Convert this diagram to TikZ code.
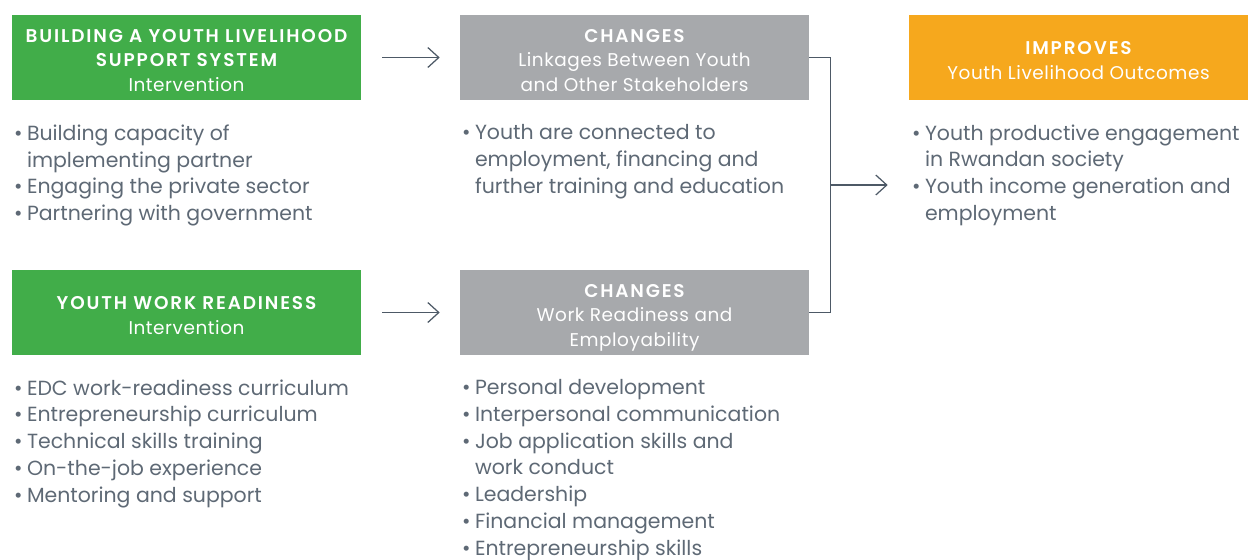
\documentclass[tikz,border=0pt]{standalone}
\usepackage{fontspec}
\setmainfont{Poppins}[BoldFont={Poppins SemiBold}]
\usetikzlibrary{positioning, arrows.meta, calc}

\definecolor{edcgreen}{HTML}{41AD49}
\definecolor{edcgray}{HTML}{A7A9AC}
\definecolor{edcorange}{HTML}{F6A81D}
\definecolor{bodytext}{HTML}{5E6975}
\definecolor{linkline}{HTML}{4D5966}

\newcommand{\bul}{\makebox[0.26cm][l]{\textbullet}}
\newcommand{\ind}{\hspace*{0.26cm}}
\newcommand{\ttl}[1]{{\bfseries\addfontfeature{LetterSpace=10}#1}}
\newcommand{\tp}{\rule{0pt}{13.8pt}}
\newcommand{\btm}{\rule[-3pt]{0pt}{3pt}}

\begin{document}
\begin{tikzpicture}[x=0.02cm, y=-0.02cm,
		box/.style={minimum width=6.98cm, minimum height=1.7cm, inner sep=0pt,
			text=white, align=center,
			font=\fontsize{10.5}{13.7}\selectfont\addfontfeature{LetterSpace=3}},
		list/.style={inner sep=0pt, align=left, text=bodytext,
			font=\fontsize{11.65}{15.2}\selectfont},
		link/.style={draw=linkline, line width=0.7pt},
		arr/.style={link, -{Straight Barb[length=0.22cm, width=0.4cm]}}]
	\useasboundingbox (0,0) rectangle (1248,559);

	%% boxes
	\node[box, fill=edcgreen] (g1) at (186.5, 57.5)
		{\tp\ttl{BUILDING A YOUTH LIVELIHOOD}\\\ttl{SUPPORT SYSTEM}\\Intervention\btm};
	\node[box, fill=edcgray] (c1) at (634.5, 57.5)
		{\tp\ttl{CHANGES}\\Linkages Between Youth\\and Other Stakeholders\btm};
	\node[box, fill=edcorange, minimum width=6.78cm] (out) at (1078.5, 57.5)
		{\tp\ttl{IMPROVES}\\Youth Livelihood Outcomes\btm};
	\node[box, fill=edcgreen] (g2) at (186.5, 312.5)
		{\tp\ttl{YOUTH WORK READINESS}\\Intervention\btm};
	\node[box, fill=edcgray] (c2) at (634.5, 312.5)
		{\tp\ttl{CHANGES}\\Work Readiness and\\Employability\btm};

	%% bullet lists
	\node[list, below right=0.48cm and 0.04cm of g1.south west] (l1)
		{\bul Building capacity of\\\ind implementing partner\\\bul Engaging the private sector\\\bul Partnering with government};
	\node[list, below right=0.48cm and 0.04cm of c1.south west] (l2)
		{\bul Youth are connected to\\\ind employment, financing and\\\ind further training and education};
	\node[list, below right=0.48cm and 0.06cm of out.south west] (l3)
		{\bul Youth productive engagement\\\ind in Rwandan society\\\bul Youth income generation and\\\ind employment};
	\node[list, below right=0.48cm and 0.04cm of g2.south west] (l4)
		{\bul EDC work-readiness curriculum\\\bul Entrepreneurship curriculum\\\bul Technical skills training\\\bul On-the-job experience\\\bul Mentoring and support};
	\node[list, below right=0.48cm and 0.04cm of c2.south west] (l5)
		{\bul Personal development\\\bul Interpersonal communication\\\bul Job application skills and\\\ind work conduct\\\bul Leadership\\\bul Financial management\\\bul Entrepreneurship skills};

	%% connectors
	\draw[arr, shorten <=0.42cm, shorten >=0.4cm] (g1) -- (c1);
	\draw[arr, shorten <=0.42cm, shorten >=0.4cm] (g2) -- (c2);
	\draw[link] (c1.east) -- ++(21,0) |- (c2.east);
	\coordinate (join) at ($(c1.east)!0.5!(c2.east) + (21,0)$);
	\draw[arr, shorten >=0.42cm] (join) -- (join -| out.west);
\end{tikzpicture}
\end{document}
